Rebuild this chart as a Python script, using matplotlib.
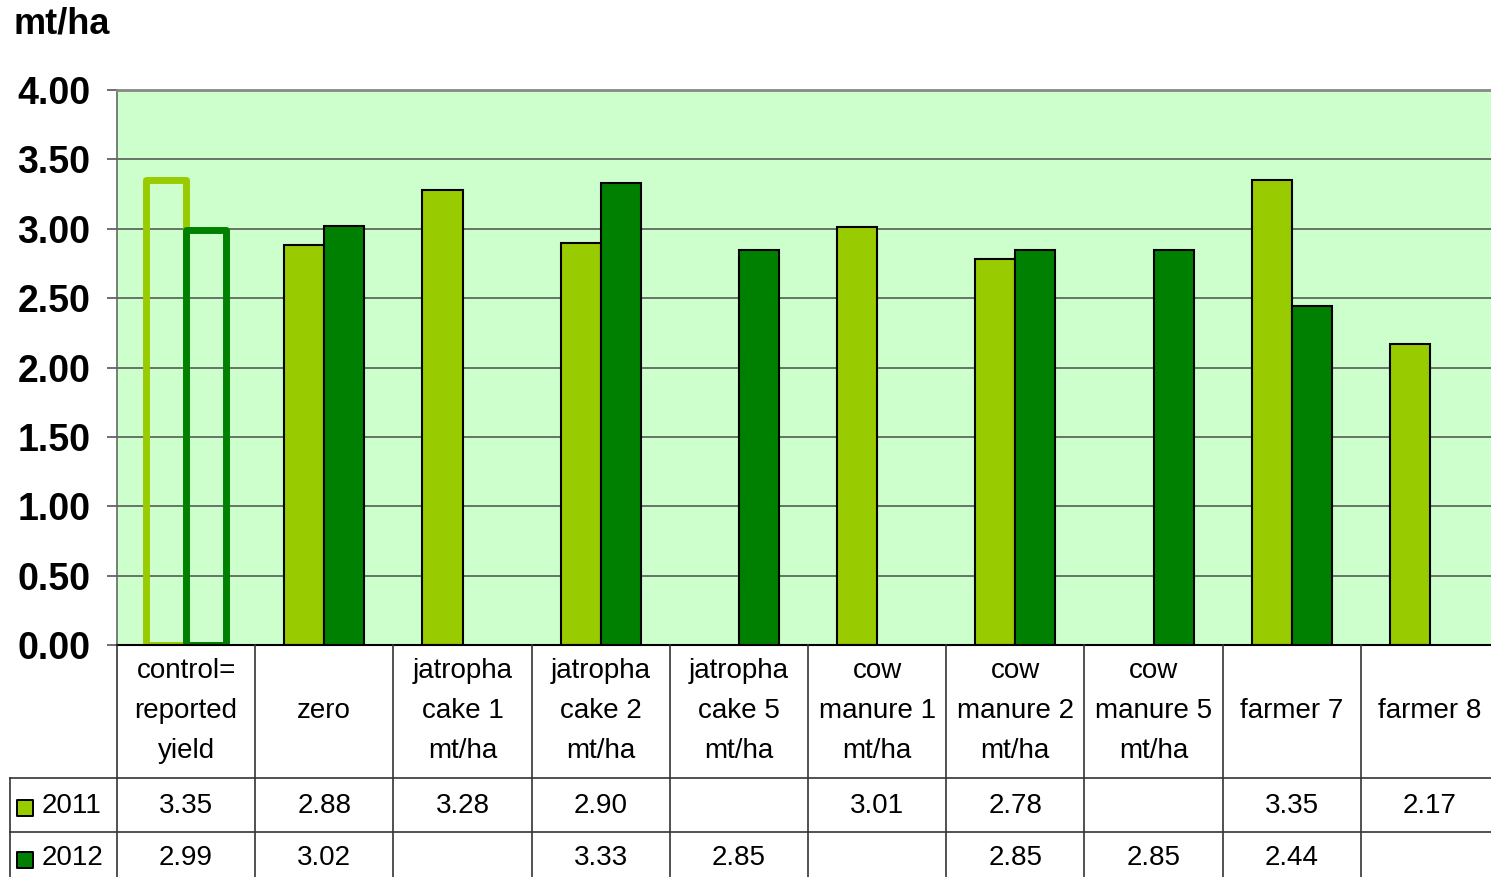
import numpy as np
import matplotlib.pyplot as plt

plt.rcParams['font.family'] = ['Liberation Sans', 'DejaVu Sans']

categories = ['control=\nreported\nyield', 'zero', 'jatropha\ncake 1\nmt/ha',
              'jatropha\ncake 2\nmt/ha', 'jatropha\ncake 5\nmt/ha',
              'cow\nmanure 1\nmt/ha', 'cow\nmanure 2\nmt/ha',
              'cow\nmanure 5\nmt/ha', 'farmer 7', 'farmer 8']
y2011 = [3.35, 2.88, 3.28, 2.90, np.nan, 3.01, 2.78, np.nan, 3.35, 2.17]
y2012 = [2.99, 3.02, np.nan, 3.33, 2.85, np.nan, 2.85, 2.85, 2.44, np.nan]
series = ['2011', '2012']
colors = ['#99CC00', '#008000']

W, H = 1491, 877
fig = plt.figure(figsize=(W / 100, H / 100), dpi=100)

# plot area in pixels: left 117, right 1499 (runs off the edge), top 90, bottom 645
left, right, top, bottom = 117, 1499, 90, 645
ax = fig.add_axes([left / W, (H - bottom) / H, (right - left) / W, (bottom - top) / H])
ax.set_facecolor('#CCFFCC')

x = np.arange(len(categories))
bw = 0.29
for k, vals in enumerate([y2011, y2012]):
    off = (k - 0.5) * bw
    for i, v in enumerate(vals):
        if np.isnan(v):
            continue
        if i == 0:
            # control bars drawn as outlines only
            ax.bar(x[i] + off, v, bw, facecolor='none', edgecolor=colors[k],
                   linewidth=5, joinstyle='round', zorder=3)
        else:
            ax.bar(x[i] + off, v, bw, facecolor=colors[k], edgecolor='black',
                   linewidth=1.5, zorder=3)

ax.set_xlim(-0.5, len(categories) - 0.5)
ax.set_ylim(0, 4)
ax.set_yticks(np.arange(0, 4.01, 0.5))
ax.set_yticklabels(['%.2f' % t for t in np.arange(0, 4.01, 0.5)],
                   fontsize=27, fontweight='bold')
ax.tick_params(axis='y', length=7, width=1.2, color='#555555', pad=12)
ax.set_xticks([])
for g in np.arange(0.5, 4.0, 0.5):
    ax.axhline(g, color='#4d4d4d', linewidth=1.1, zorder=1)
ax.spines['top'].set_color('#888888')
ax.spines['top'].set_linewidth(2)
ax.spines['right'].set_visible(False)
ax.spines['left'].set_color('#666666')
ax.spines['left'].set_linewidth(1.2)
ax.spines['bottom'].set_color('black')
ax.spines['bottom'].set_linewidth(1.5)
ax.spines['bottom'].set_zorder(4)

fig.text(13 / W, 1 - 24 / H, 'mt/ha', fontsize=26, fontweight='bold', va='center', ha='left')

# data table under the chart
tab = fig.add_axes([left / W, 0, (right - left) / W, (H - bottom) / H])
tab.set_xlim(-0.5, len(categories) - 0.5)
tab.set_ylim(H - bottom, 0)
tab.axis('off')

px = (right - left) / len(categories)
xleg = -0.5 - (left - 10) / px
lc = '#333333'
for b in np.arange(-0.5, len(categories) + 0.5):
    tab.plot([b, b], [0, H - bottom], color=lc, linewidth=1.2, clip_on=False)
tab.plot([xleg, xleg], [778 - bottom, H - bottom], color=lc, linewidth=1.2, clip_on=False)
for yl in [778, 832]:
    tab.plot([xleg, len(categories)], [yl - bottom, yl - bottom], color=lc,
             linewidth=1.2, clip_on=False)

for i, c in enumerate(categories):
    tab.text(x[i], 711 - bottom, c, ha='center', va='center', fontsize=20,
             linespacing=1.72)

rows_y = [806, 858]
for k, vals in enumerate([y2011, y2012]):
    for i, v in enumerate(vals):
        if not np.isnan(v):
            tab.text(x[i], rows_y[k] - bottom, '%.2f' % v, ha='center', va='center',
                     fontsize=20)
    tab.scatter([-0.5 - (left - 25) / px], [rows_y[k] - bottom + 2], marker='s', s=120,
                facecolor=colors[k], edgecolor='black', linewidth=1.4, clip_on=False)
    tab.text(-0.5 - (left - 42) / px, rows_y[k] - bottom, series[k], ha='left',
             va='center', fontsize=20, clip_on=False)

fig.savefig('out.png', dpi=100)
